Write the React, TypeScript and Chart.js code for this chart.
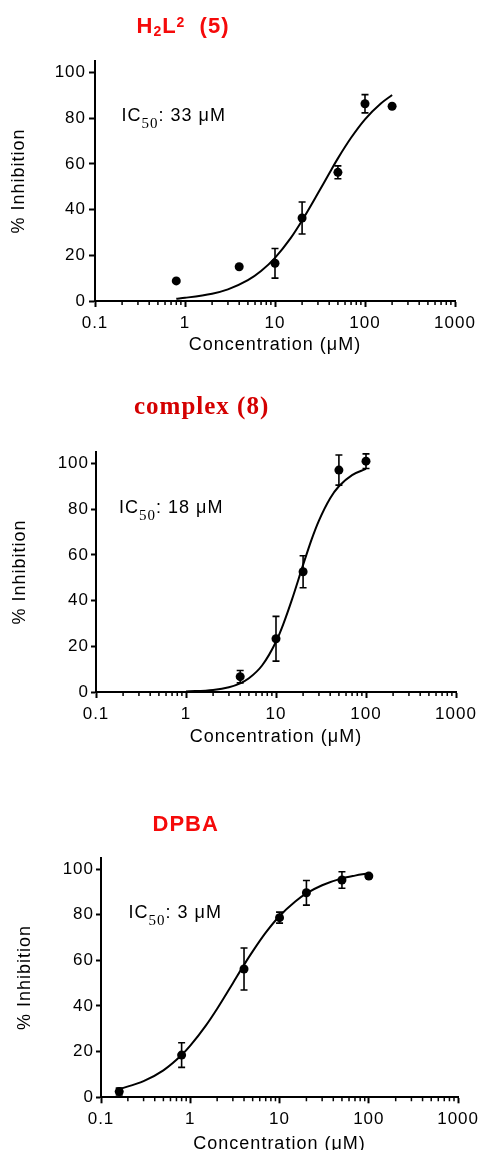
import React, { useEffect, useRef } from 'react';
import { Chart, registerables } from 'chart.js';

Chart.register(...registerables);

const SANS = '"Liberation Sans", Arial, sans-serif';
const SERIF = '"Liberation Serif", "Times New Roman", serif';

// ---- shared axis data ----
const X_TICKS = [0.1, 1, 10, 100, 1000];
const X_TICK_LABELS = ['0.1', '1', '10', '100', '1000'];
const X_MINOR = [0.2, 0.3, 0.4, 0.5, 0.6, 0.7, 0.8, 0.9, 2, 3, 4, 5, 6, 7, 8, 9, 20, 30, 40, 50, 60, 70, 80, 90, 200, 300, 400, 500, 600, 700, 800, 900];
const Y_TICKS = [0, 20, 40, 60, 80, 100];
const X_TITLE = 'Concentration (μM)';
const Y_TITLE = '% Inhibition';

// ---- Panel 1: H2L2 (5) ----
const P1_X = [0.8, 4, 10, 20, 50, 100, 200];
const P1_Y = [8.8, 15, 16.5, 36.3, 56.3, 86.3, 85.2];
const P1_ERR = [0, 0, 6.5, 7, 2.8, 4, 0];
const P1_CURVE_X = [0.8, 1, 2, 3, 5, 7, 10, 15, 20, 30, 40, 50, 70, 100, 150, 200];
const P1_CURVE_Y = [1.0, 1.4, 3.2, 5.1, 9.1, 13.1, 18.9, 27.6, 35.2, 47.1, 55.8, 62.4, 71.4, 79.5, 86.4, 90.1];
const P1_IC50 = ': 33 μM';

// ---- Panel 2: complex (8) ----
const P2_X = [4, 10, 20, 50, 100];
const P2_Y = [6.7, 23.3, 52.6, 97.1, 101];
const P2_ERR = [2.7, 9.8, 7, 6.6, 3.2];
const P2_CURVE_X = [1, 2, 3, 4, 5, 7, 10, 12, 15, 20, 25, 30, 40, 50, 70, 100];
const P2_CURVE_Y = [0.2, 0.9, 2.1, 3.8, 6.0, 11.6, 22, 29.5, 40.3, 55.6, 67, 75, 84.8, 90, 94.9, 97.6];
const P2_IC50 = ': 18 μM';

// ---- Panel 3: DPBA ----
const P3_X = [0.16, 0.8, 4, 10, 20, 50, 100];
const P3_Y = [2.5, 18.5, 56.2, 78.7, 89.6, 95.2, 96.9];
const P3_ERR = [1.5, 5.4, 9.2, 2.4, 5.4, 3.6, 0.8];
const P3_CURVE_X = [0.16, 0.3, 0.5, 0.8, 1, 1.5, 2, 3, 4, 5, 7, 10, 15, 20, 30, 50, 70, 100];
const P3_CURVE_Y = [3.6, 7.1, 11.8, 18.5, 22.6, 31.5, 38.8, 50, 58, 63.9, 72.1, 79.4, 85.8, 89.3, 92.9, 95.9, 97.1, 98.1];
const P3_IC50 = ': 3 μM';

type Seg = { text: string; font: string; dy: number };

const icSegs = (rest: string): Seg[] => [
  { text: 'IC', font: `18px ${SANS}`, dy: 0 },
  { text: '50', font: `15px ${SERIF}`, dy: 7 },
  { text: rest, font: `18px ${SANS}`, dy: 0 },
];

const PANELS = [
  {
    top: 0, height: 380,
    left: 95, right: 455, areaTop: 61, padBottom: 19, xHeight: 60, xTitlePad: 5,
    yTickLen: 6, yTickPad: 3, yTitlePad: 8,
    xs: P1_X, ys: P1_Y, err: P1_ERR, cx: P1_CURVE_X, cy: P1_CURVE_Y,
    title: [
      { text: 'H', font: `bold 22px ${SANS}`, dy: 0 },
      { text: '2', font: `bold 14px ${SANS}`, dy: 2.5 },
      { text: 'L', font: `bold 22px ${SANS}`, dy: 0 },
      { text: '2', font: `bold 14px ${SANS}`, dy: -6.6 },
      { text: '  (5)', font: `bold 22px ${SANS}`, dy: 0 },
    ] as Seg[],
    titleX: 136.5, titleY: 33.3, titleColor: '#f50a0a',
    ic: icSegs(P1_IC50), icX: 121.5, icY: 121,
  },
  {
    top: 380, height: 380,
    left: 96, right: 456, areaTop: 72, padBottom: 8, xHeight: 60, xTitlePad: 4,
    yTickLen: 5, yTickPad: 2, yTitlePad: 9,
    xs: P2_X, ys: P2_Y, err: P2_ERR, cx: P2_CURVE_X, cy: P2_CURVE_Y,
    title: [{ text: 'complex (8)', font: `bold 25px ${SERIF}`, dy: 0 }] as Seg[],
    titleX: 134, titleY: 34, titleColor: '#d40000',
    ic: icSegs(P2_IC50), icX: 119, icY: 133.3,
  },
  {
    top: 760, height: 400,
    left: 101, right: 461, areaTop: 97.6, padBottom: 2.7, xHeight: 60, xTitlePad: 2,
    yTickLen: 5, yTickPad: 2, yTitlePad: 14.6,
    xs: P3_X, ys: P3_Y, err: P3_ERR, cx: P3_CURVE_X, cy: P3_CURVE_Y,
    title: [{ text: 'DPBA', font: `bold 22px ${SANS}`, dy: 0 }] as Seg[],
    titleX: 152.5, titleY: 70.7, titleColor: '#f50a0a',
    ic: icSegs(P3_IC50), icX: 128.5, icY: 158.3,
  },
];

function drawRich(ctx: CanvasRenderingContext2D, segs: Seg[], x: number, y: number, color: string) {
  ctx.fillStyle = color;
  ctx.textAlign = 'left';
  ctx.textBaseline = 'alphabetic';
  let cx = x;
  for (const s of segs) {
    ctx.font = s.font;
    ctx.fillText(s.text, cx, y + s.dy);
    cx += ctx.measureText(s.text).width;
  }
}

function makeDecor(cfg: any) {
  return {
    id: 'decor',
    beforeDraw(chart: any) {
      chart.ctx.letterSpacing = '1px';
    },
    afterDatasetsDraw(chart: any) {
      const { ctx } = chart;
      const x = chart.scales.x;
      const y = chart.scales.y;
      ctx.save();
      ctx.strokeStyle = '#000';
      ctx.lineWidth = 1.6;
      cfg.xs.forEach((xv: number, i: number) => {
        const e = cfg.err[i];
        if (!e) return;
        const px = x.getPixelForValue(xv);
        const y1 = y.getPixelForValue(cfg.ys[i] + e);
        const y2 = y.getPixelForValue(cfg.ys[i] - e);
        ctx.beginPath();
        ctx.moveTo(px, y1); ctx.lineTo(px, y2);
        ctx.moveTo(px - 3.5, y1); ctx.lineTo(px + 3.5, y1);
        ctx.moveTo(px - 3.5, y2); ctx.lineTo(px + 3.5, y2);
        ctx.stroke();
      });
      ctx.restore();
    },
    afterDraw(chart: any) {
      const { ctx, chartArea } = chart;
      const x = chart.scales.x;
      ctx.save();
      ctx.strokeStyle = '#000';
      ctx.lineWidth = 1.5;
      ctx.beginPath();
      X_MINOR.forEach((v) => {
        const px = x.getPixelForValue(v);
        ctx.moveTo(px, chartArea.bottom);
        ctx.lineTo(px, chartArea.bottom + 4);
      });
      ctx.stroke();
      drawRich(ctx, cfg.title, cfg.titleX, cfg.titleY, cfg.titleColor);
      drawRich(ctx, cfg.ic, cfg.icX, cfg.icY, '#000');
      ctx.restore();
    },
  };
}

function Panel({ cfg }: { cfg: any }) {
  const ref = useRef<HTMLCanvasElement>(null);
  useEffect(() => {
    const canvas = ref.current;
    if (!canvas) return;
    const chart = new Chart(canvas, {
      type: 'scatter',
      data: {
        datasets: [
          {
            type: 'line',
            data: cfg.cx.map((v: number, i: number) => ({ x: v, y: cfg.cy[i] })),
            borderColor: '#000',
            borderWidth: 2,
            pointRadius: 0,
            fill: false,
            cubicInterpolationMode: 'monotone',
            order: 2,
          } as any,
          {
            type: 'scatter',
            data: cfg.xs.map((v: number, i: number) => ({ x: v, y: cfg.ys[i] })),
            backgroundColor: '#000',
            borderColor: '#000',
            borderWidth: 0,
            pointRadius: 4.5,
            order: 1,
          } as any,
        ],
      },
      options: {
        animation: false,
        responsive: false,
        devicePixelRatio: 1,
        layout: { padding: { left: 0, right: 483 - cfg.right, top: cfg.areaTop, bottom: cfg.padBottom } },
        plugins: { legend: { display: false }, tooltip: { enabled: false }, title: { display: false } },
        scales: {
          x: {
            type: 'logarithmic',
            position: 'bottom',
            min: 0.1,
            max: 1000,
            afterFit: (s: any) => { s.height = cfg.xHeight; },
            afterBuildTicks: (s: any) => { s.ticks = X_TICKS.map((v) => ({ value: v })); },
            ticks: {
              autoSkip: false,
              maxRotation: 0,
              padding: 6,
              color: '#000',
              font: { family: SANS, size: 17 },
              callback: (_v: any, i: number) => X_TICK_LABELS[i],
            },
            grid: { display: true, drawOnChartArea: false, drawTicks: true, tickLength: 6, tickWidth: 2, tickColor: '#000' },
            border: { display: true, color: '#000', width: 2 },
            title: {
              display: true,
              text: X_TITLE,
              color: '#000',
              font: { family: SANS, size: 18 },
              padding: { top: 0, bottom: cfg.xTitlePad },
            },
          },
          y: {
            type: 'linear',
            min: 0,
            max: 105,
            afterFit: (s: any) => { s.width = cfg.left; },
            afterBuildTicks: (s: any) => { s.ticks = Y_TICKS.map((v) => ({ value: v })); },
            ticks: {
              padding: cfg.yTickPad,
              color: '#000',
              font: { family: SANS, size: 17 },
              callback: (v: any) => String(v),
            },
            grid: { display: true, drawOnChartArea: false, drawTicks: true, tickLength: cfg.yTickLen, tickWidth: 2, tickColor: '#000' },
            border: { display: true, color: '#000', width: 2 },
            title: {
              display: true,
              text: Y_TITLE,
              color: '#000',
              font: { family: SANS, size: 18 },
              padding: { top: cfg.yTitlePad, bottom: 0 },
            },
          },
        },
      } as any,
      plugins: [makeDecor(cfg)],
    });
    return () => chart.destroy();
  }, [cfg]);
  return (
    <canvas
      ref={ref}
      width={483}
      height={cfg.height}
      style={{ position: 'absolute', left: 0, top: cfg.top, width: 483, height: cfg.height, display: 'block' }}
    />
  );
}

export default function App() {
  return (
    <div style={{ position: 'absolute', left: 0, top: 0, width: 483, height: 1150, overflow: 'hidden', background: '#fff' }}>
      {PANELS.map((p, i) => (
        <Panel key={i} cfg={p} />
      ))}
    </div>
  );
}
